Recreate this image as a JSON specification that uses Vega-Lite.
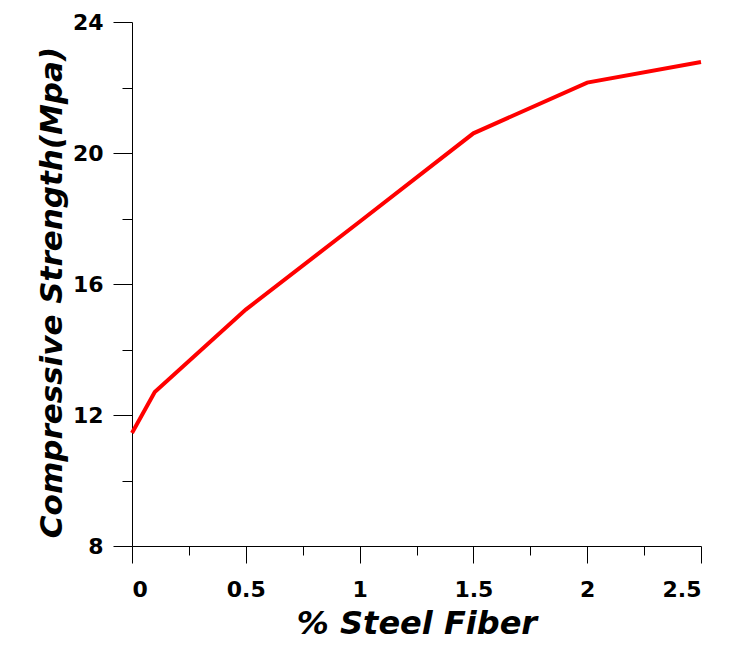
{
  "$schema": "https://vega.github.io/schema/vega-lite/v6.json",
  "width": 569,
  "height": 524,
  "autosize": {"type": "none"},
  "padding": {"left": 132, "top": 22, "right": 28, "bottom": 99},
  "background": "white",
  "config": {
    "view": {"stroke": null},
    "axis": {
      "domainColor": "black",
      "domainWidth": 1,
      "tickColor": "black",
      "tickWidth": 1,
      "labelFont": "DejaVu Sans",
      "labelFontWeight": "bold",
      "labelFontSize": 22,
      "labelColor": "black",
      "titleFont": "DejaVu Sans",
      "titleFontWeight": "bold",
      "titleFontStyle": "italic",
      "titleFontSize": 30,
      "titleColor": "black",
      "grid": false
    }
  },
  "data": {
    "values": [
      {"fiber": 0, "strength": 11.45},
      {"fiber": 0.1, "strength": 12.7},
      {"fiber": 0.5, "strength": 15.22},
      {"fiber": 1.0, "strength": 17.9},
      {"fiber": 1.5, "strength": 20.6},
      {"fiber": 2.0, "strength": 22.15},
      {"fiber": 2.5, "strength": 22.78}
    ]
  },
  "resolve": {"scale": {"x": "independent", "y": "independent"}, "axis": {"x": "independent", "y": "independent"}},
  "layer": [
    {
      "mark": {"type": "line", "opacity": 0},
      "encoding": {
        "x": {"field": "fiber", "type": "quantitative", "scale": {"domain": [0, 2.5], "nice": false, "zero": false},
          "axis": {"orient": "bottom", "values": [0.25, 0.75, 1.25, 1.75, 2.25], "labels": false, "tickSize": 9, "title": null, "domain": false}},
        "y": {"field": "strength", "type": "quantitative", "scale": {"domain": [8, 24], "nice": false, "zero": false},
          "axis": {"orient": "left", "values": [10, 14, 18, 22], "labels": false, "tickSize": 10, "title": null, "domain": false}}
      }
    },
    {
      "mark": {"type": "line", "color": "#ff0000", "strokeWidth": 4},
      "encoding": {
        "x": {"field": "fiber", "type": "quantitative", "scale": {"domain": [0, 2.5], "nice": false, "zero": false},
          "axis": {"orient": "bottom", "values": [0, 0.5, 1, 1.5, 2, 2.5], "format": "~g", "tickSize": 17, "labelPadding": 16, "title": "% Steel Fiber", "titleFontSize": 32, "titlePadding": 8}},
        "y": {"field": "strength", "type": "quantitative", "scale": {"domain": [8, 24], "nice": false, "zero": false},
          "axis": {"orient": "left", "values": [8, 12, 16, 20, 24], "tickSize": 19, "labelPadding": 10, "title": "Compressive Strength(Mpa)", "titleFontSize": 31, "titlePadding": 4, "titleY": 270}}
      }
    }
  ]
}
